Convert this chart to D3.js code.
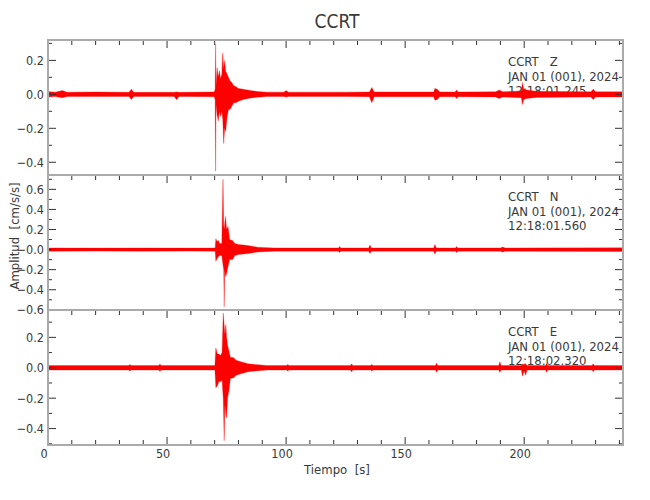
<!DOCTYPE html>
<html>
<head>
<meta charset="utf-8">
<script src="https://cdn.jsdelivr.net/npm/d3@7"></script>
<style>
  body { margin: 0; background: #fff; }
  text { font-family: "DejaVu Sans", sans-serif; font-stretch: condensed; fill: #3a3a3a; }
</style>
</head>
<body>
<svg width="650" height="500"></svg>
<script>
// envelopes: [time s, max, min]
var traceZ = [
  [0, .016, -.016], [3, .013, -.013], [6, .022, -.02], [8, .013, -.013], [20, .014, -.013],
  [34, .012, -.012], [35, .03, -.03], [36, .012, -.012], [53, .012, -.012], [54, .014, -.032], [55, .012, -.012],
  [69.8, .014, -.014], [70.2, .03, -.03], [70.4, .296, -.453], [70.6, .05, -.06], [71.0, .157, -.12],
  [71.5, .10, -.157], [72.0, .14, -.10], [72.5, .09, -.13], [73.0, .12, -.10], [73.4, .245, -.15],
  [73.8, .15, -.29], [74.2, .20, -.20], [74.6, .137, -.22], [75.2, .12, -.137], [75.8, .10, -.09],
  [76.5, .078, -.088], [77.2, .07, -.07], [78, .05, -.05], [79, .045, -.05], [80, .035, -.04],
  [82, .03, -.03], [85, .022, -.022], [88, .017, -.017], [92, .013, -.013],
  [99, .013, -.013], [100, .022, -.016], [101, .013, -.013], [125, .013, -.013],
  [135, .014, -.014], [136, .04, -.05], [137, .014, -.014],
  [162, .014, -.014], [162.5, .035, -.035], [163.5, .03, -.03], [164.5, .014, -.014],
  [171, .014, -.014], [171.6, .025, -.025], [172.2, .014, -.014],
  [188, .015, -.015], [189.5, .025, -.025], [191, .015, -.015],
  [198.8, .02, -.02], [199.3, .07, -.06], [199.8, .03, -.03], [201, .025, -.025], [205, .018, -.018],
  [228, .015, -.015], [229, .03, -.03], [230, .015, -.015], [241.5, .015, -.015]
];
var traceN = [
  [0, .016, -.016], [20, .015, -.015], [40, .016, -.016], [60, .015, -.015],
  [70.2, .016, -.016], [70.5, .107, -.117], [71.0, .08, -.09], [71.6, .09, -.07], [72.1, .06, -.06],
  [73.0, .06, -.06], [73.5, .70, -.15], [73.8, .25, -.20], [74.0, .20, -.57], [74.2, .25, -.2],
  [74.6, .33, -.27], [75.0, .2, -.24], [75.6, .23, -.17], [76.3, .1, -.1], [77.5, .09, -.1],
  [78.5, .06, -.06], [80, .05, -.05], [84, .04, -.04], [88, .024, -.024], [95, .016, -.016],
  [122, .016, -.016], [122.5, .03, -.03], [123, .016, -.016],
  [134.7, .016, -.016], [135.2, .045, -.04], [135.8, .016, -.016],
  [162, .016, -.016], [162.5, .05, -.045], [163.1, .016, -.016],
  [171.1, .016, -.016], [171.6, .03, -.03], [172.1, .016, -.016],
  [190, .016, -.016], [191, .025, -.025], [192, .016, -.016], [241.5, .018, -.018]
];
var traceE = [
  [0, .015, -.015], [34, .015, -.015], [34.3, .022, -.022], [35, .015, -.015],
  [46.5, .015, -.015], [47, .024, -.024], [47.5, .015, -.015],
  [70.1, .015, -.015], [70.5, .13, -.13], [71.1, .09, -.12], [71.8, .09, -.09], [72.5, .08, -.09],
  [73.1, .10, -.08], [73.6, .36, -.20], [74.0, .28, -.48], [74.3, .22, -.24], [74.7, .285, -.31],
  [75.0, .20, -.33], [75.4, .15, -.2], [76, .11, -.15], [76.6, .07, -.07], [78, .066, -.066],
  [79, .05, -.05], [81, .04, -.04], [84, .026, -.026], [87, .021, -.021], [92, .015, -.015],
  [100.2, .015, -.015], [100.7, .022, -.022], [101.2, .015, -.015],
  [127, .015, -.015], [127.5, .026, -.026], [128, .015, -.015],
  [135.5, .015, -.015], [136, .022, -.022], [136.5, .015, -.015],
  [162.7, .015, -.015], [163.2, .03, -.03], [163.7, .015, -.015],
  [189.3, .015, -.015], [189.8, .04, -.03], [190.3, .015, -.015],
  [198.8, .015, -.015], [199.3, .025, -.055], [200, .02, -.02], [200.6, .025, -.05], [201.2, .015, -.015],
  [209, .015, -.015], [209.4, .03, -.03], [209.9, .015, -.015],
  [228.5, .015, -.015], [229, .026, -.026], [229.5, .015, -.015], [241.5, .015, -.015]
];

var components = ["Z", "N", "E"];
var startTimes = ["12:18:01.245", "12:18:01.560", "12:18:02.320"];
var yDomains = [[-0.475, 0.32], [-0.602, 0.743], [-0.508, 0.38]];
var yTickVals = [[0.2, 0.0, -0.2, -0.4], [0.6, 0.4, 0.2, 0.0, -0.2, -0.4, -0.6], [0.2, 0.0, -0.2, -0.4]];
var yTickLabels = [["0.2", "0.0", "\u22120.2", "\u22120.4"],
                   ["0.6", "0.4", "0.2", "\u22120.0", "\u22120.2", "\u22120.4", "\u22120.6"],
                   ["0.2", "0.0", "\u22120.2", "\u22120.4"]];
var xTicks = [0, 50, 100, 150, 200];
var traces = [traceZ, traceN, traceE];

var svg = d3.select("svg");
var left = 48, right = 623, topY = 40, panelH = 135;

var x = d3.scaleLinear().domain([0, 241.5]).range([left, right]);

svg.append("text").attr("x", 337).attr("y", 28).attr("text-anchor", "middle")
    .style("font-size", "19px").text("CCRT");

traces.forEach(function (tr, i) {
    var y0 = topY + i * panelH, y1 = y0 + panelH;
    var y = d3.scaleLinear().domain(yDomains[i]).range([y1, y0]);
    var g = svg.append("g");

    // station text
    var tx = g.append("text").attr("x", 508).attr("y", y0 + 26)
        .style("font-size", "13px").style("white-space", "pre");
    tx.append("tspan").attr("x", 508).text("CCRT   " + components[i]);
    tx.append("tspan").attr("x", 508).attr("dy", 14.5).text("JAN 01 (001), 2024");
    tx.append("tspan").attr("x", 508).attr("dy", 14.5).text(startTimes[i]);

    // trace envelope
    var area = d3.area()
        .x(function (d) { return x(d[0]); })
        .y0(function (d) { return y(d[2]); })
        .y1(function (d) { return y(d[1]); });
    g.append("path").datum(tr).attr("d", area)
        .attr("fill", "#ff0000").attr("stroke", "#ff0000").attr("stroke-width", 0.5)
        .attr("stroke-opacity", 0.6);

    // y ticks left and right (inward)
    var minorY = d3.range(Math.ceil(yDomains[i][0] * 10), Math.floor(yDomains[i][1] * 10) + 1)
        .map(function (v) { return v / 10; });
    minorY.forEach(function (v) {
        var major = yTickVals[i].some(function (m) { return Math.abs(m - v) < 1e-6; });
        var len = major ? 8 : 4;
        g.append("line").attr("x1", left).attr("x2", left + len).attr("y1", y(v)).attr("y2", y(v))
            .attr("stroke", "#333").attr("stroke-width", 1);
        g.append("line").attr("x1", right).attr("x2", right - len).attr("y1", y(v)).attr("y2", y(v))
            .attr("stroke", "#333").attr("stroke-width", 1);
    });
    yTickVals[i].forEach(function (v, k) {
        g.append("text").attr("x", 44).attr("y", y(v)).attr("dy", "0.36em")
            .attr("text-anchor", "end").style("font-size", "12.5px").text(yTickLabels[i][k]);
    });

    // x ticks on top of each panel
    d3.range(0, 241, 10).forEach(function (t) {
        var len = t % 50 === 0 ? 8 : 5;
        g.append("line").attr("x1", x(t)).attr("x2", x(t)).attr("y1", y0).attr("y2", y0 + len)
            .attr("stroke", "#333").attr("stroke-width", 1);
        if (i === 2) {
            g.append("line").attr("x1", x(t)).attr("x2", x(t)).attr("y1", y1).attr("y2", y1 - len)
                .attr("stroke", "#333").attr("stroke-width", 1);
        }
    });

    g.append("rect").attr("x", left).attr("y", y0).attr("width", right - left).attr("height", panelH)
        .attr("fill", "none").attr("stroke", "#aaaaaa").attr("stroke-width", 2);
});

var bottom = topY + 3 * panelH;
xTicks.forEach(function (t) {
    svg.append("text").attr("x", x(t) - 4).attr("y", bottom + 13).attr("text-anchor", "middle")
        .style("font-size", "12.5px").text(t);
});

svg.append("text").attr("x", 337).attr("y", 474).attr("text-anchor", "middle")
    .style("font-size", "13px").style("white-space", "pre").text("Tiempo  [s]");

svg.append("text").attr("transform", "translate(19,236) rotate(-90)").attr("text-anchor", "middle")
    .style("font-size", "13px").style("white-space", "pre").text("Amplitud  [cm/s/s]");
</script>
</body>
</html>
